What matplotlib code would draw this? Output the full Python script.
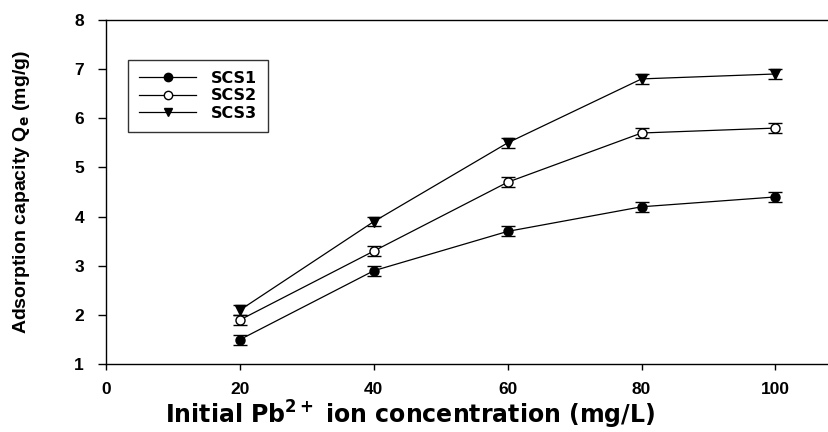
import matplotlib
matplotlib.use("Agg")
import matplotlib.pyplot as plt
from matplotlib.lines import Line2D

conc = [20, 40, 60, 80, 100]
scs1 = [1.5, 2.9, 3.7, 4.2, 4.4]
scs2 = [1.9, 3.3, 4.7, 5.7, 5.8]
scs3 = [2.1, 3.9, 5.5, 6.8, 6.9]
err1 = [0.1, 0.1, 0.1, 0.1, 0.1]
err2 = [0.1, 0.1, 0.1, 0.1, 0.1]
err3 = [0.1, 0.1, 0.1, 0.1, 0.1]
xticks = [0, 20, 40, 60, 80, 100]
yticks = [1, 2, 3, 4, 5, 6, 7, 8]

plt.rcParams['font.family'] = ['Liberation Sans', 'DejaVu Sans']

fig = plt.figure(figsize=(8.29, 4.32), dpi=100)
ax = fig.add_axes([0.128, 0.157, 0.872, 0.797])

common = dict(color='black', lw=0.9, capsize=5, elinewidth=1.0, capthick=1.0, ms=6.5, mec='black')
ax.errorbar(conc, scs1, yerr=err1, fmt='-o', mfc='black', **common)
ax.errorbar(conc, scs2, yerr=err2, fmt='-o', mfc='white', **common)
ax.errorbar(conc, scs3, yerr=err3, fmt='-v', mfc='black', **common)

ax.set_xlim(0, 108)
ax.set_ylim(1, 8)
ax.set_xticks(xticks)
ax.set_yticks(yticks)
ax.tick_params(axis='x', direction='out', length=4, width=1, labelsize=12.5, pad=9)
ax.tick_params(axis='y', direction='out', length=6, width=1, labelsize=12.5, pad=10)
for lab in ax.get_xticklabels() + ax.get_yticklabels():
    lab.set_fontweight('bold')
ax.spines['right'].set_visible(False)
for s in ['left', 'bottom', 'top']:
    ax.spines[s].set_linewidth(1.0)

ax.set_xlabel('Initial Pb$^{\\mathbf{2+}}$ ion concentration (mg/L)', fontsize=17,
              fontweight='bold', family=['DejaVu Sans'])
ax.xaxis.set_label_coords((410 - 106) / 723, -0.1)
ax.set_ylabel('Adsorption capacity Q$_\\mathbf{e}$ (mg/g)', fontsize=14, fontweight='bold',
              family=['Liberation Sans', 'DejaVu Sans'])
ax.yaxis.set_label_coords(-0.103, 0.5)

handles = [
    Line2D([], [], color='black', lw=0.9, marker='o', mfc='black', mec='black', ms=6),
    Line2D([], [], color='black', lw=0.9, marker='o', mfc='white', mec='black', ms=6),
    Line2D([], [], color='black', lw=0.9, marker='v', mfc='black', mec='black', ms=6),
]
labels = ['SCS1', 'SCS2', 'SCS3']
leg = ax.legend(handles, labels, loc='upper left', bbox_to_anchor=(0.030, 0.884),
                borderaxespad=0, frameon=True, fancybox=False, edgecolor='black',
                prop={'weight': 'bold', 'size': 11.5, 'family': 'DejaVu Sans'},
                handlelength=3.6, borderpad=0.7, labelspacing=0.15, handletextpad=0.9)
leg.get_frame().set_linewidth(1.0)

fig.savefig('out.png', dpi=100)
